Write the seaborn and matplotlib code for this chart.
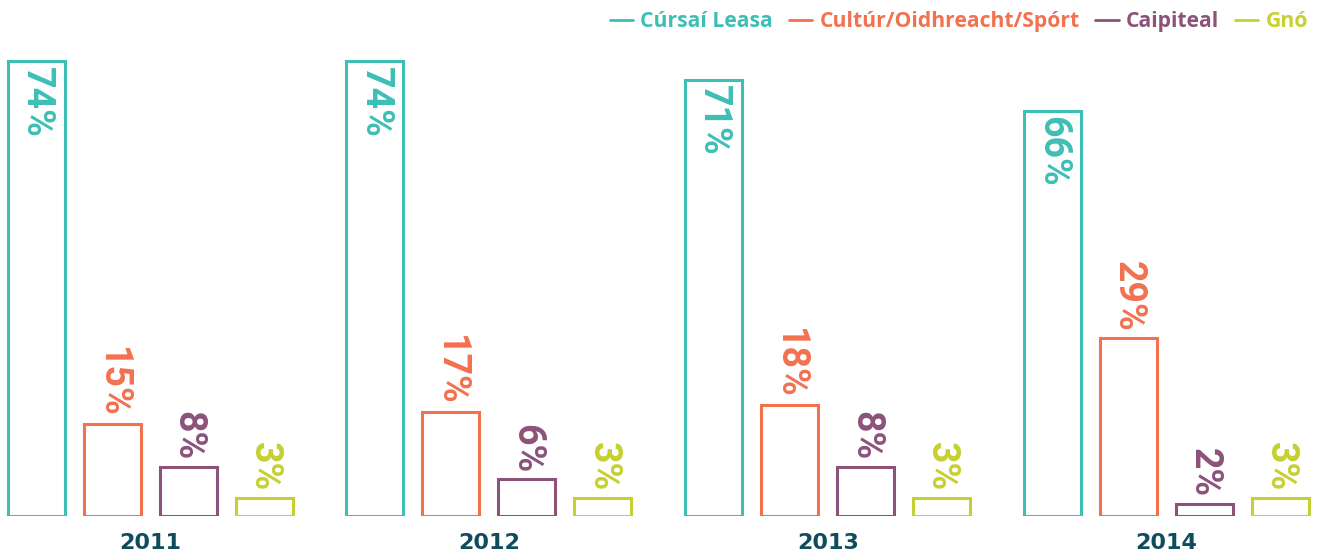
import matplotlib.pyplot as plt
from matplotlib.lines import Line2D
import pandas as pd
import seaborn as sns

years = ["2011", "2012", "2013", "2014"]
series = ["Cúrsaí Leasa", "Cultúr/Oidhreacht/Spórt", "Caipiteal", "Gnó"]
cursai_leasa = [74, 74, 71, 66]
cultur = [15, 17, 18, 29]
caipiteal = [8, 6, 8, 2]
gno = [3, 3, 3, 3]

colors = ["#3dbfb5", "#f2714f", "#8b527a", "#c6d02f"]
year_color = "#0f4c5c"

df = pd.DataFrame({
    "year": years * 4,
    "series": [s for s in series for _ in years],
    "value": cursai_leasa + cultur + caipiteal + gno,
})

sns.set_theme(style="white")
plt.rcParams["font.family"] = ["Roboto", "DejaVu Sans"]

fig = plt.figure(figsize=(13.19, 5.55), dpi=100)
ax = fig.add_axes([0, 39 / 555, 1, 516 / 555])

sns.barplot(
    data=df, x="year", y="value", hue="series", hue_order=series,
    palette=colors, fill=False, width=0.897, gap=0.25,
    linewidth=2.2, legend=False, ax=ax,
)

ax.set_xlim(-0.443, 3.45)
ax.set_ylim(0, 84)
sns.despine(ax=ax, left=True, bottom=True)
ax.set_yticks([])
ax.set_xlabel("")
ax.set_ylabel("")
ax.tick_params(axis="x", length=0, pad=12)
for lbl in ax.get_xticklabels():
    lbl.set_fontsize(16)
    lbl.set_fontweight("bold")
    lbl.set_family("DejaVu Sans")
    lbl.set_color(year_color)

# value labels, rotated, first series inside the bar top
for i, cont in enumerate(ax.containers):
    for bar in cont:
        h = bar.get_height()
        xc = bar.get_x() + bar.get_width() / 2
        inside = i == 0
        ax.annotate(f"{h:.0f}%", (xc, h), xytext=(0, -4 if inside else 4.5),
                    textcoords="offset points", rotation=-90,
                    ha="center", va="top" if inside else "bottom",
                    fontsize=27, fontweight="bold", color=colors[i])

handles = [Line2D([0], [0], color=c, lw=2) for c in colors]
leg = fig.legend(
    handles, series, loc="upper right", bbox_to_anchor=(1.003, 1.006),
    ncol=4, frameon=False, handlelength=1.1, handletextpad=0.35,
    columnspacing=0.75, borderaxespad=0.3,
    prop={"family": "Open Sans", "size": 15.2, "weight": "bold"},
    labelcolor="linecolor",
)

fig.savefig("out.png", dpi=100)
